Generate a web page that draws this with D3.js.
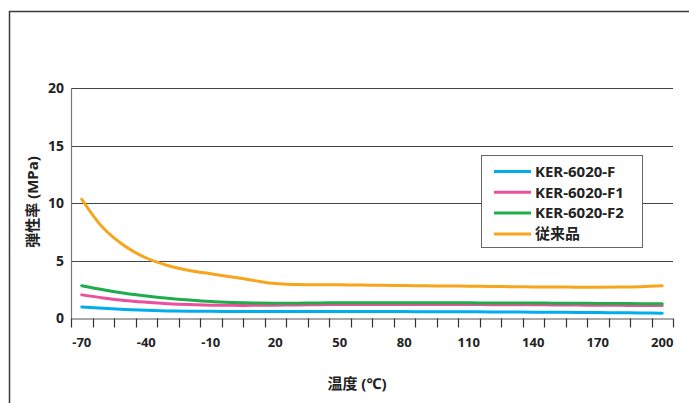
<!DOCTYPE html>
<html><head><meta charset="utf-8">
<script src="https://cdn.jsdelivr.net/npm/d3@7"></script>
<style>
html,body{margin:0;padding:0;background:#fff;}
svg text{font-family:"Noto Sans","Noto Sans CJK JP",sans-serif;font-weight:bold;fill:#222;}
</style></head>
<body>
<svg id="c" width="689" height="403"></svg>
<script>
const temps = [-70,-60,-50,-40,-30,-20,-10,0,10,20,30,40,50,60,70,80,90,100,110,120,130,140,150,160,170,180,190,200];
const xTickLabels = [-70,-40,-10,20,50,80,110,140,170,200];
const yTicks = [0,5,10,15,20];
const seriesNames = ["KER-6020-F","KER-6020-F1","KER-6020-F2","従来品"];
const seriesColors = ["#00aeef","#ec4f9c","#1fad4b","#f7a51c"];
const valsF  = [1.0,0.88,0.78,0.71,0.66,0.63,0.62,0.61,0.61,0.61,0.61,0.61,0.61,0.6,0.6,0.6,0.59,0.59,0.58,0.57,0.56,0.55,0.54,0.53,0.51,0.5,0.48,0.46];
const valsF1 = [2.05,1.78,1.56,1.41,1.29,1.21,1.16,1.14,1.14,1.16,1.18,1.2,1.21,1.21,1.21,1.21,1.21,1.21,1.21,1.2,1.2,1.19,1.18,1.17,1.15,1.14,1.13,1.12];
const valsF2 = [2.85,2.5,2.2,1.96,1.76,1.6,1.47,1.39,1.34,1.32,1.33,1.35,1.36,1.36,1.36,1.36,1.36,1.36,1.36,1.35,1.35,1.34,1.33,1.32,1.31,1.3,1.29,1.28];
const valsOld = [10.35,7.85,6.3,5.25,4.6,4.17,3.88,3.6,3.3,3.03,2.95,2.93,2.92,2.9,2.88,2.86,2.84,2.82,2.8,2.78,2.76,2.74,2.73,2.72,2.72,2.73,2.76,2.84];
const seriesVals = [valsF, valsF1, valsF2, valsOld];
const yTitle = "弾性率 (MPa)";
const xTitle = "温度 (℃)";

const svg = d3.select("#c");
const L = 71, R = 673, T = 88, B = 318.5;

// outer frame
svg.append("rect").attr("x",9.5).attr("y",11.5).attr("width",720).attr("height",420)
  .attr("fill","none").attr("stroke","#3a3a3a").attr("stroke-width",1.5);

const x = d3.scaleBand().domain(temps).range([L,R]).padding(0);
const bw = x.bandwidth();
const y = d3.scaleLinear().domain([0,20]).range([B,T]);

// gridlines
svg.append("g").selectAll("line").data(yTicks.filter(v=>v>0)).join("line")
  .attr("x1",L).attr("x2",R).attr("y1",d=>Math.round(y(d))+0.5).attr("y2",d=>Math.round(y(d))+0.5)
  .attr("stroke","#444").attr("stroke-width",1.2);

// y axis line
svg.append("line").attr("x1",L+0.5).attr("x2",L+0.5).attr("y1",T).attr("y2",B)
  .attr("stroke","#777").attr("stroke-width",1.2);

// x axis line
svg.append("line").attr("x1",L).attr("x2",R).attr("y1",B+0.5).attr("y2",B+0.5)
  .attr("stroke","#555").attr("stroke-width",1.2);

// boundary ticks
const bounds = temps.map(t=>x(t)).concat([x(temps[temps.length-1])+bw]);
svg.append("g").selectAll("line").data(bounds).join("line")
  .attr("x1",d=>Math.round(d)+0.5).attr("x2",d=>Math.round(d)+0.5)
  .attr("y1",B).attr("y2",B+9).attr("stroke","#333").attr("stroke-width",1.2);

// x labels
const xa = svg.append("g").attr("transform",`translate(0,${B})`)
  .call(d3.axisBottom(x).tickValues(xTickLabels).tickSize(0).tickPadding(19));
xa.select(".domain").remove();
xa.selectAll("text").attr("font-size",13).attr("fill","#222").style("font-family",'"Noto Sans",sans-serif').style("font-weight","bold");

// y labels
const ya = svg.append("g").attr("transform",`translate(${L},0)`)
  .call(d3.axisLeft(y).tickValues(yTicks).tickSize(0).tickPadding(7));
ya.select(".domain").remove();
ya.selectAll("text").attr("font-size",14).attr("fill","#222").style("font-family",'"Noto Sans",sans-serif').style("font-weight","bold");

// titles
svg.append("text").attr("transform","translate(38,202) rotate(-90)").attr("text-anchor","middle")
  .attr("font-size",15).text(yTitle);
svg.append("text").attr("x",357).attr("y",389).attr("text-anchor","middle")
  .attr("font-size",15).text(xTitle);

// lines
const line = d3.line().x((d,i)=>x(temps[i])+bw/2).y(d=>y(d)).curve(d3.curveCatmullRom.alpha(0.5));
const order = [0,1,2,3];
svg.append("g").selectAll("path").data(order).join("path")
  .attr("d",i=>line(seriesVals[i])).attr("fill","none")
  .attr("stroke",i=>seriesColors[i]).attr("stroke-width",3).attr("stroke-linecap","round");

// legend
const lg = svg.append("g");
lg.append("rect").attr("x",481.5).attr("y",155.5).attr("width",161).attr("height",92)
  .attr("fill","#fff").attr("stroke","#666").attr("stroke-width",1);
const rowY = [171.5,192.3,213,234];
seriesNames.forEach((n,i)=>{
  lg.append("line").attr("x1",494).attr("x2",531).attr("y1",rowY[i]).attr("y2",rowY[i])
    .attr("stroke",seriesColors[i]).attr("stroke-width",3);
  lg.append("text").attr("x",535).attr("y",rowY[i]).attr("dy","0.36em")
    .attr("font-size",15).text(n);
});
</script>
</body></html>
